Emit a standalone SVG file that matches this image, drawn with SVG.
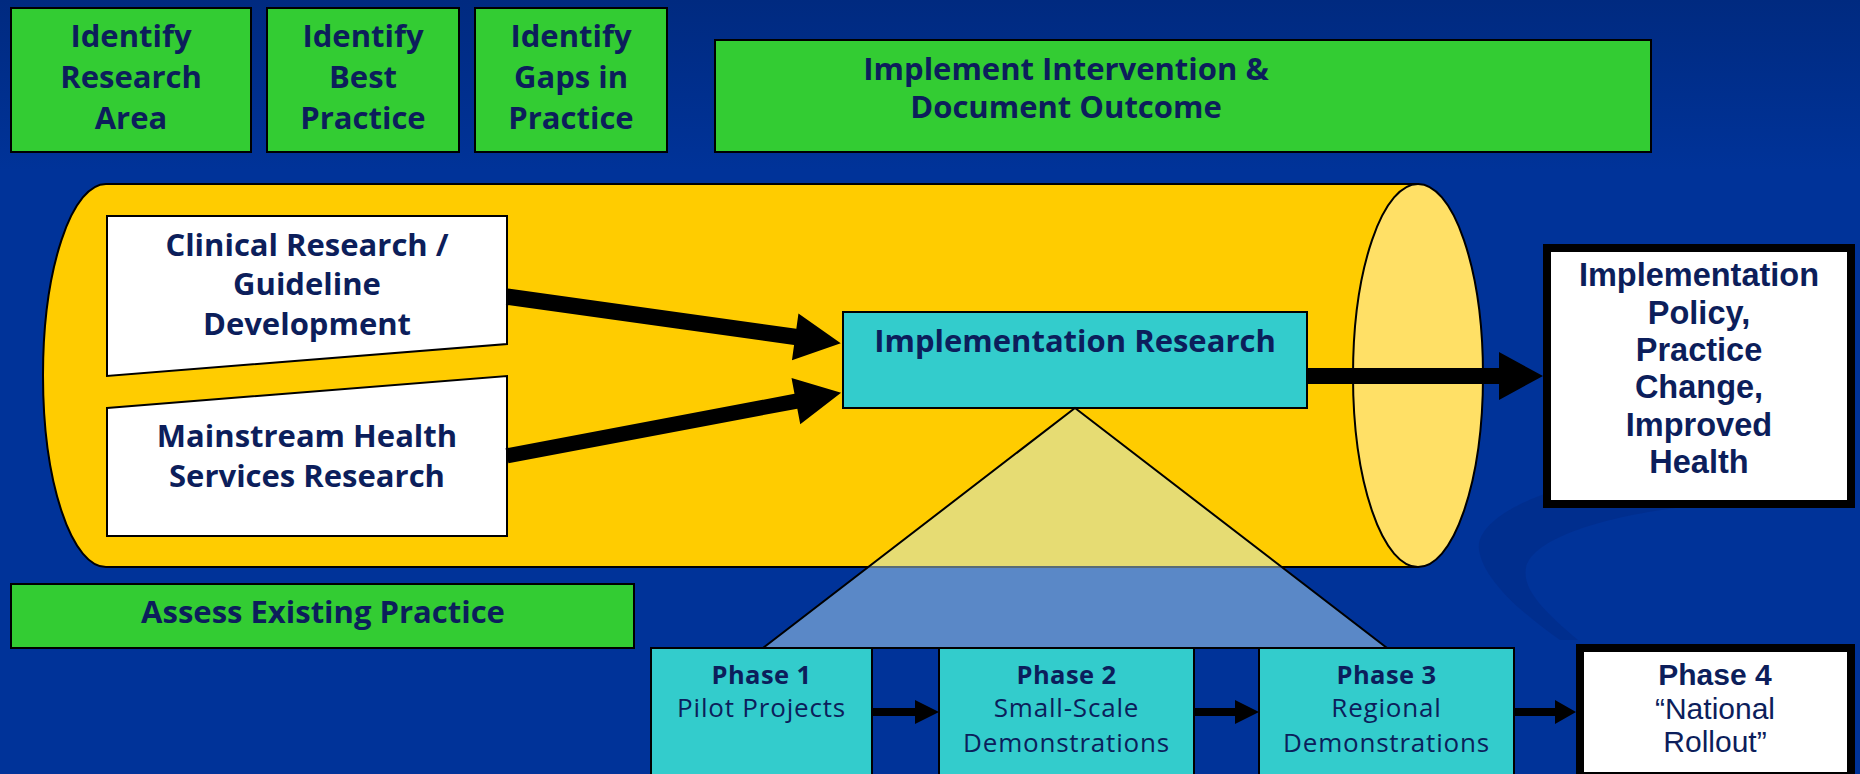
<svg xmlns="http://www.w3.org/2000/svg" width="1860" height="774" viewBox="0 0 1860 774">
  <defs>
    <linearGradient id="bg" x1="0" y1="0" x2="0" y2="1">
      <stop offset="0" stop-color="#002a80"/>
      <stop offset="0.22" stop-color="#003399"/>
      <stop offset="1" stop-color="#003399"/>
    </linearGradient>
    <style>
      .green { fill: #33cc33; stroke: #000; stroke-width: 2; }
      .white { fill: #ffffff; stroke: #000; stroke-width: 2; }
      .cyan { fill: #33cccc; stroke: #000; stroke-width: 2; }
      .heavy { fill: #ffffff; stroke: #000; stroke-width: 8; }
      .arrow { fill: #000; }
      .t { font-family: "Open Sans", "Noto Sans", sans-serif; font-weight: 700; font-size: 31px; fill: #0c1e5b; text-anchor: middle; }
      .ph { font-family: "Open Sans", "Noto Sans", sans-serif; font-weight: 700; font-size: 25.5px; letter-spacing: 0.4px; fill: #0c1e5b; text-anchor: middle; }
      .ps { font-family: "Open Sans", "Noto Sans", sans-serif; font-weight: 400; font-size: 26px; letter-spacing: 0.8px; fill: #0c1e5b; text-anchor: middle; }
      .a { font-family: "Liberation Sans", Arial, sans-serif; font-weight: 700; font-size: 32.5px; fill: #0c1e5b; text-anchor: middle; }
      .a4 { font-family: "Liberation Sans", Arial, sans-serif; font-weight: 700; font-size: 30px; fill: #0c1e5b; text-anchor: middle; }
      .a4r { font-family: "Liberation Sans", Arial, sans-serif; font-weight: 400; font-size: 30px; fill: #0c1e5b; text-anchor: middle; }
    </style>
  </defs>

  <!-- backdrop with a faint swoosh -->
  <rect x="0" y="0" width="1860" height="774" fill="url(#bg)"/>
  <path d="M1650,472 C1545,482 1474,518 1479,550 C1484,580 1520,612 1560,640 L1578,640 C1545,612 1522,590 1526,568 C1531,542 1590,518 1690,506 Z" fill="#00257a" opacity="0.35"/>

  <!-- pipeline cylinder -->
  <g id="pipeline">
    <path d="M106,184 H1418 V567 H106 A63,191.5 0 0 1 106,184 Z" fill="#ffcc00" stroke="#000" stroke-width="2"/>
    <ellipse cx="1418" cy="375.5" rx="65" ry="191.5" fill="#ffe066" stroke="#000" stroke-width="2"/>
  </g>

  <!-- step boxes -->
  <g id="identify-area">
    <rect class="green" x="11" y="8" width="240" height="144"/>
    <text class="t" x="131" y="47">Identify</text>
    <text class="t" x="131" y="88">Research</text>
    <text class="t" x="131" y="129">Area</text>
  </g>
  <g id="identify-best">
    <rect class="green" x="267" y="8" width="192" height="144"/>
    <text class="t" x="363" y="47">Identify</text>
    <text class="t" x="363" y="88">Best</text>
    <text class="t" x="363" y="129">Practice</text>
  </g>
  <g id="identify-gaps">
    <rect class="green" x="475" y="8" width="192" height="144"/>
    <text class="t" x="571" y="47">Identify</text>
    <text class="t" x="571" y="88">Gaps in</text>
    <text class="t" x="571" y="129">Practice</text>
  </g>
  <g id="implement">
    <rect class="green" x="715" y="40" width="936" height="112"/>
    <text class="t" x="1066" y="80">Implement Intervention &amp;</text>
    <text class="t" x="1066" y="118">Document Outcome</text>
  </g>
  <g id="assess">
    <rect class="green" x="11" y="584" width="623" height="64"/>
    <text class="t" x="323" y="623">Assess Existing Practice</text>
  </g>

  <!-- research sources -->
  <g id="clinical">
    <polygon class="white" points="107,216 507,216 507,344 107,376"/>
    <text class="t" x="307" y="256">Clinical Research /</text>
    <text class="t" x="307" y="295">Guideline</text>
    <text class="t" x="307" y="335">Development</text>
  </g>
  <g id="mainstream">
    <polygon class="white" points="107,408 507,376 507,536 107,536"/>
    <text class="t" x="307" y="447">Mainstream Health</text>
    <text class="t" x="307" y="487">Services Research</text>
  </g>

  <!-- connectors -->
  <g id="connectors">
    <polygon class="arrow" transform="translate(507,296.7) rotate(7.94)" points="0,-8.2 291,-8.2 291,-23.5 337,0 291,23.5 291,8.2 0,8.2"/>
    <polygon class="arrow" transform="translate(507,455.8) rotate(-10.7)" points="0,-7.6 294,-7.6 294,-23.5 340,0 294,23.5 294,7.6 0,7.6"/>
    <polygon class="arrow" points="1307,368 1499,368 1499,352 1543,376 1499,400 1499,384 1307,384"/>
    <polygon class="arrow" points="859,708 915,708 915,700 939,712 915,724 915,716 859,716"/>
    <polygon class="arrow" points="1180,708 1235,708 1235,700 1259,712 1235,724 1235,716 1180,716"/>
    <polygon class="arrow" points="1499,708 1555,708 1555,700 1576,712 1555,724 1555,716 1499,716"/>
  </g>

  <!-- implementation research and its phases -->
  <g id="implementation-research">
    <rect class="cyan" x="843" y="312" width="464" height="96"/>
    <text class="t" x="1075" y="352">Implementation Research</text>
  </g>
  <polygon id="funnel" points="1075,408 1387,648 763,648" fill="#c8f0ff" fill-opacity="0.45" stroke="#000" stroke-width="2"/>

  <g id="phase1">
    <rect class="cyan" x="651" y="648" width="221" height="140"/>
    <text class="ph" x="761.5" y="684">Phase 1</text>
    <text class="ps" x="761.5" y="717">Pilot Projects</text>
  </g>
  <g id="phase2">
    <rect class="cyan" x="939" y="648" width="255" height="140"/>
    <text class="ph" x="1066.5" y="684">Phase 2</text>
    <text class="ps" x="1066.5" y="717">Small-Scale</text>
    <text class="ps" x="1066.5" y="752">Demonstrations</text>
  </g>
  <g id="phase3">
    <rect class="cyan" x="1259" y="648" width="255" height="140"/>
    <text class="ph" x="1386.5" y="684">Phase 3</text>
    <text class="ps" x="1386.5" y="717">Regional</text>
    <text class="ps" x="1386.5" y="752">Demonstrations</text>
  </g>
  <g id="phase4">
    <rect class="heavy" x="1580" y="648" width="271" height="128"/>
    <text class="a4" x="1715" y="685">Phase 4</text>
    <text class="a4r" x="1715" y="719">“National</text>
    <text class="a4r" x="1715" y="752">Rollout”</text>
  </g>

  <g id="outcome">
    <rect class="heavy" x="1547" y="248" width="304" height="256"/>
    <text class="a" x="1699" y="286">Implementation</text>
    <text class="a" x="1699" y="324">Policy,</text>
    <text class="a" x="1699" y="361">Practice</text>
    <text class="a" x="1699" y="398">Change,</text>
    <text class="a" x="1699" y="436">Improved</text>
    <text class="a" x="1699" y="473">Health</text>
  </g>
</svg>
